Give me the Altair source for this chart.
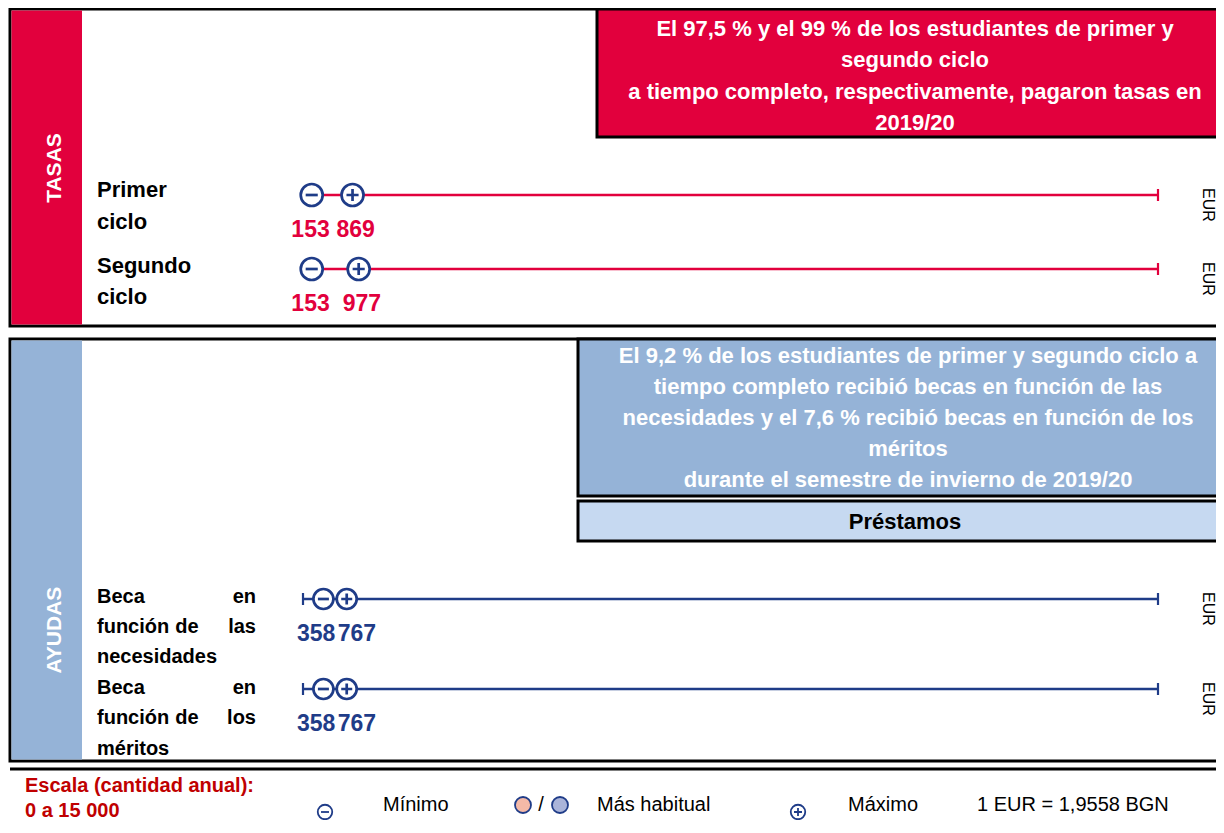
import altair as alt
import pandas as pd

# ---------------- data ----------------
categorias = ["Primer ciclo", "Segundo ciclo",
              "Beca en función de las necesidades", "Beca en función de los méritos"]
grupos = ["TASAS", "TASAS", "AYUDAS", "AYUDAS"]
minimos = [153, 153, 358, 358]
maximos = [869, 977, 767, 767]
escala_min = 0
escala_max = 15000
unidad = "EUR"

callout_tasas = ["El 97,5 % y el 99 % de los estudiantes de primer y",
                 "segundo ciclo",
                 "a tiempo completo, respectivamente, pagaron tasas en",
                 "2019/20"]
callout_ayudas = ["El 9,2 % de los estudiantes de primer y segundo ciclo a",
                  "tiempo completo recibió becas en función de las",
                  "necesidades y el 7,6 % recibió becas en función de los",
                  "méritos",
                  "durante el semestre de invierno de 2019/20"]
prestamos = "Préstamos"
leyenda_escala = ["Escala (cantidad anual):", "0 a 15 000"]
leyenda_items = ["Mínimo", "Más habitual", "Máximo", "1 EUR = 1,9558 BGN"]

df = pd.DataFrame({
    "categoria": categorias,
    "grupo": grupos,
    "minimo": minimos,
    "maximo": maximos,
    "inicio": escala_min,
    "fin": escala_max,
    "fila": list(range(len(categorias))),
})

# ---------------- style ----------------
RED = "#E2003D"
NAVY = "#1F3C88"
LIGHTBLUE = "#95B3D7"
PALE = "#C6D9F1"
DARKRED = "#C00000"
SANS = "Liberation Sans, Arial, sans-serif"
MINUS = "M-0.55,0H0.55"
PLUS = "M-0.55,0H0.55M0,-0.55V0.55"
W, H = 1208, 812

one = alt.Data(values=[{"k": 1}])

xs = alt.Scale(domain=[escala_min, escala_max], range=[295, 1150])
Y = alt.Y("fila:Q", axis=None,
          scale=alt.Scale(domain=[0, 1, 2, 3], range=[187, 261, 591, 681], zero=False, nice=False))
colr = alt.Color("grupo:N", legend=None, scale=alt.Scale(domain=["TASAS", "AYUDAS"], range=[RED, NAVY]))
sizr = alt.Size("grupo:O", legend=None, scale=alt.Scale(domain=["TASAS", "AYUDAS"], range=[484, 400]))


def rect(x, x2, y, y2, fill, stroke=None, sw=0):
    kw = dict(fill=fill)
    if stroke:
        kw.update(stroke=stroke, strokeWidth=sw)
    return alt.Chart(one).mark_rect(**kw).encode(
        x=alt.value(x), x2=alt.value(x2), y=alt.value(y), y2=alt.value(y2))


def txt(s, x, y, size=20, color="black", weight="bold", align="left", font=SANS, angle=0):
    kw = dict(fontSize=size, color=color, fontWeight=weight, align=align, baseline="middle", font=font)
    if angle:
        kw["angle"] = angle
    return alt.Chart(one).mark_text(**kw).encode(x=alt.value(x), y=alt.value(y), text=alt.value(s))


layers = []

# ---- panel TASAS ----
layers.append(rect(2, 1230, 1, 318, "white", "black", 3))
layers.append(rect(3.5, 74, 2.5, 316.5, RED))
layers.append(rect(589, 1230, 1, 129, RED, "black", 3))
for i, s in enumerate(callout_tasas):
    layers.append(txt(s, 907, 21 + i * 31.3, size=22, color="white", align="center"))
layers.append(txt("TASAS", 47, 160, size=21, color="white", align="center", angle=270))
for s, x, y in [("Primer", 89, 182), ("ciclo", 89, 214), ("Segundo", 89, 258), ("ciclo", 89, 289)]:
    layers.append(txt(s, x, y, size=22))

# ---- panel AYUDAS ----
layers.append(rect(2, 1230, 331, 753, "white", "black", 3))
layers.append(rect(3.5, 74, 332.5, 751.5, LIGHTBLUE))
layers.append(rect(570, 1230, 331, 488, LIGHTBLUE, "black", 3))
for i, s in enumerate(callout_ayudas):
    layers.append(txt(s, 900, 348 + i * 31, size=22, color="white", align="center"))
layers.append(rect(570, 1230, 493, 533, PALE, "black", 3))
layers.append(txt(prestamos, 897, 514, size=22, align="center"))
layers.append(txt("AYUDAS", 47, 622, size=21, color="white", align="center", angle=270))
for s, x, y, a in [("Beca", 89, 589, "left"), ("en", 248, 589, "right"),
                   ("función", 89, 619, "left"), ("de", 179, 619, "center"), ("las", 248, 619, "right"),
                   ("necesidades", 89, 649, "left"),
                   ("Beca", 89, 680, "left"), ("en", 248, 680, "right"),
                   ("función", 89, 710, "left"), ("de", 179, 710, "center"), ("los", 248, 710, "right"),
                   ("méritos", 89, 741, "left")]:
    layers.append(txt(s, x, y, size=20, align=a))

# ---- data rows ----
base = alt.Chart(df)
layers.append(base.mark_rule(strokeWidth=2.4).encode(
    x=alt.X("inicio:Q", scale=xs, axis=None), x2="fin:Q", y=Y, color=colr))
layers.append(base.transform_fold(["inicio", "fin"], as_=["extremo", "valor"]).mark_point(
    shape="M0,-1V1", size=144, filled=False, strokeWidth=2.2, opacity=1).encode(
    x=alt.X("valor:Q", scale=xs, axis=None), y=Y, color=colr))
for campo, glyph in [("minimo", MINUS), ("maximo", PLUS)]:
    layers.append(base.mark_circle(fill="white", opacity=1, stroke=NAVY, strokeWidth=2.7).encode(
        x=alt.X(f"{campo}:Q", scale=xs, axis=None), y=Y, size=sizr))
    layers.append(base.mark_point(shape=glyph, filled=False, stroke=NAVY, strokeWidth=2.7, opacity=1).encode(
        x=alt.X(f"{campo}:Q", scale=xs, axis=None), y=Y, size=sizr))

for grupo, color, dmin, dmax in [("TASAS", RED, 18, -16), ("AYUDAS", NAVY, 12, -9)]:
    sub = base.transform_filter(alt.datum.grupo == grupo)
    layers.append(sub.mark_text(align="right", dx=dmin, dy=35, baseline="middle", font=SANS,
                                fontWeight="bold", fontSize=23, color=color).encode(
        x=alt.X("minimo:Q", scale=xs, axis=None), y=Y, text=alt.Text("minimo:Q", format="d")))
    layers.append(sub.mark_text(align="left", dx=dmax, dy=35, baseline="middle", font=SANS,
                                fontWeight="bold", fontSize=23, color=color).encode(
        x=alt.X("maximo:Q", scale=xs, axis=None), y=Y, text=alt.Text("maximo:Q", format="d")))

layers.append(base.mark_text(angle=90, dx=10, align="center", baseline="middle", font=SANS,
                             fontSize=16, color="black").encode(
    x=alt.value(1200), y=Y, text=alt.value(unidad)))

# ---- legend ----
layers.append(alt.Chart(one).mark_rule(strokeWidth=3, color="black").encode(
    x=alt.value(2), x2=alt.value(1230), y=alt.value(761)))
layers.append(txt(leyenda_escala[0], 17, 778, size=20, color=DARKRED))
layers.append(txt(leyenda_escala[1], 17, 803, size=20, color=DARKRED))
for xpos, glyph in [(317, MINUS), (790, PLUS)]:
    layers.append(alt.Chart(one).mark_point(shape="circle", size=210, fill="white", filled=True,
                                            stroke=NAVY, strokeWidth=1.8, opacity=1).encode(
        x=alt.value(xpos), y=alt.value(804)))
    layers.append(alt.Chart(one).mark_point(shape=glyph, size=210, filled=False,
                                            stroke=NAVY, strokeWidth=1.8, opacity=1).encode(
        x=alt.value(xpos), y=alt.value(804)))
for xpos, fill in [(515, "#F4B9A7"), (552, "#AAB4D9")]:
    layers.append(alt.Chart(one).mark_point(shape="circle", size=256, fill=fill, filled=True,
                                            stroke=NAVY, strokeWidth=1.8, opacity=1).encode(
        x=alt.value(xpos), y=alt.value(797)))
layers.append(txt("/", 533, 797, size=20, weight="normal", align="center"))
for s, x in zip(leyenda_items, [375, 589, 840, 969]):
    layers.append(txt(s, x, 797, size=20, weight="normal"))

chart = alt.layer(*layers).properties(
    width=W, height=H, autosize=alt.AutoSizeParams(type="none"), padding=0
).configure_view(stroke=None)

chart.save("out.html", embed_options={"renderer": "svg", "actions": False})
